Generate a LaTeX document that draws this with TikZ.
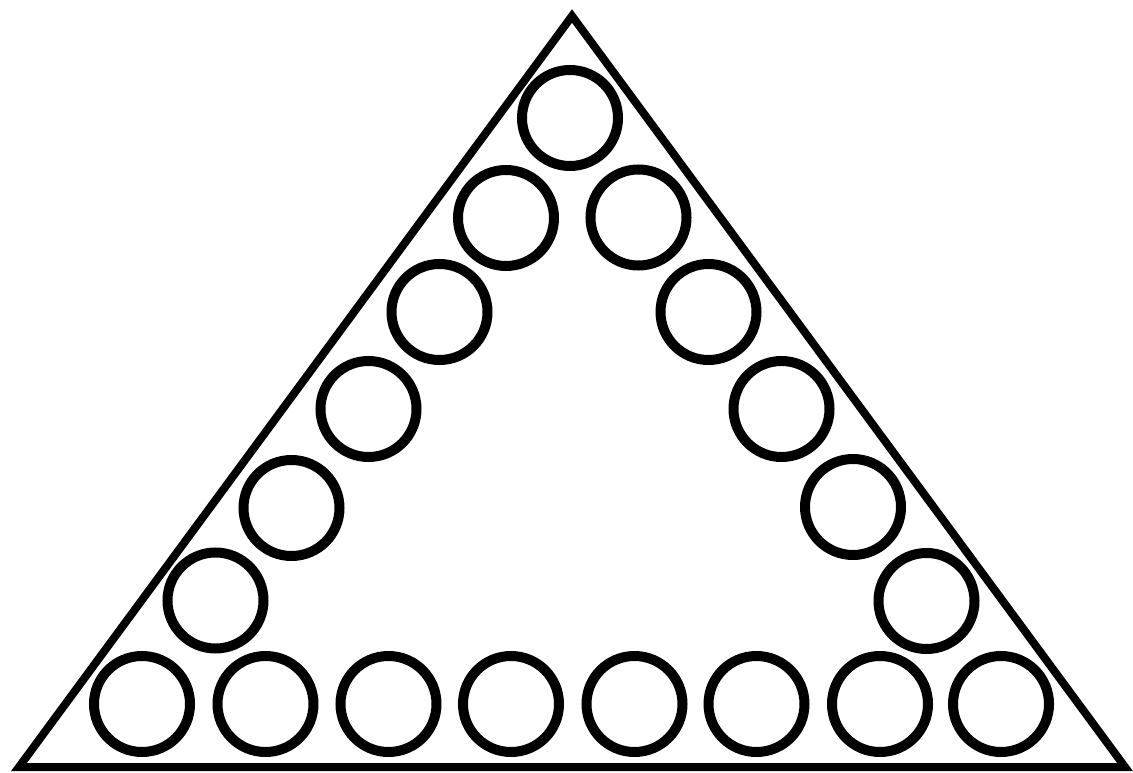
\documentclass[tikz,border=0pt]{standalone}
\begin{document}
\begin{tikzpicture}[x=1pt,y=-1pt,
  ring/.style={draw=black,circle,line width=10pt,minimum size=96pt,inner sep=0pt,outer sep=0pt},
  frame/.style={draw=black,line width=8pt,line join=miter}]
\useasboundingbox (0,0) rectangle (1133,773);
\fill[white] (0,0) rectangle (1133,773);
\coordinate (A) at (572,16);
\coordinate (B) at (19,767);
\coordinate (C) at (1125,767);
\draw[frame] (A) -- (B) -- (C) -- cycle;
% apex
\node[ring] (t) at (570,118) {};
% left side
\node[ring] (l1) at (506,218) {};
\node[ring] (l2) at (439.5,312) {};
\node[ring] (l3) at (368.5,409) {};
\node[ring] (l4) at (291.5,508) {};
\node[ring] (l5) at (215.5,600.5) {};
% right side
\node[ring] (r1) at (638.5,217.5) {};
\node[ring] (r2) at (708.5,312) {};
\node[ring] (r3) at (781.5,409) {};
\node[ring] (r4) at (853,507) {};
\node[ring] (r5) at (926.5,601) {};
% bottom row
\node[ring] (b1) at (142,704) {};
\node[ring] (b2) at (265.5,704) {};
\node[ring] (b3) at (388.5,704) {};
\node[ring] (b4) at (511,704) {};
\node[ring] (b5) at (634.5,704) {};
\node[ring] (b6) at (756.5,704) {};
\node[ring] (b7) at (880,704) {};
\node[ring] (b8) at (1001,704) {};
\end{tikzpicture}
\end{document}
